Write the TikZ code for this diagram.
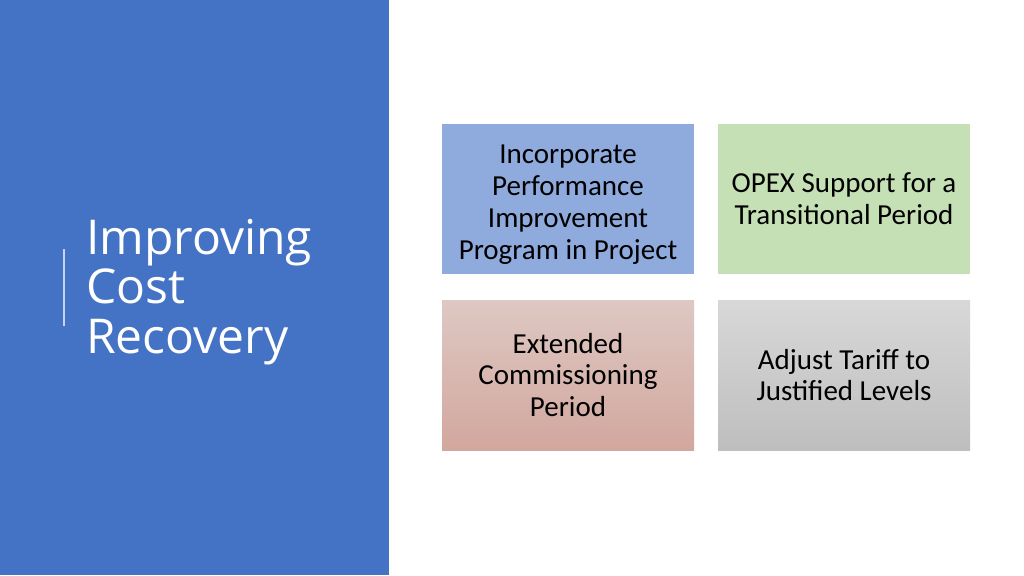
\documentclass[tikz,border=0pt]{standalone}
\usepackage{fontspec}
\setmainfont{Carlito}
\newfontfamily\titlefont{Open Sans}
\definecolor{panelblue}{HTML}{4472C4}
\definecolor{tileblue}{HTML}{8FAADC}
\definecolor{tilegreen}{HTML}{C5E0B4}
\definecolor{rosetop}{HTML}{DEC8C3}
\definecolor{rosebottom}{HTML}{D2A79E}
\definecolor{greytop}{HTML}{D8D8D8}
\definecolor{greybottom}{HTML}{BEBEBE}
\begin{document}
\begin{tikzpicture}[x=1pt,y=-1pt,
		tile/.style={minimum width=250pt,minimum height=150pt,inner sep=4pt,
			text width=244pt,align=flush center,font=\fontsize{29}{31.7}\selectfont,text=black}]
		\useasboundingbox (0,0) rectangle (1024,575);
		\fill[white] (0,0) rectangle (1024,575);
		\fill[panelblue] (0,0) rectangle (389,575);
		\draw[white,opacity=0.7,line width=1.5pt] (64,249) -- (64,326);
		\node (title) at (86,292) [anchor=west,inner sep=0pt,align=left,text=white,font=\titlefont\fontsize{48}{49.5}\selectfont] {Improving\\Cost\\Recovery};
		\node (performance) at (568,199) [tile,fill=tileblue] {\rule{0pt}{30pt}Incorporate\\Performance\\Improvement\\Program in Project};
		\node (opex) at (844,199) [tile,fill=tilegreen] {OPEX Support for a\\Transitional Period};
		\node (commissioning) at (568,375) [tile,top color=rosetop,bottom color=rosebottom] {Extended\\Commissioning\\Period};
		\node (tariff) at (844,375) [tile,top color=greytop,bottom color=greybottom] {Adjust Tariff to\\Justified Levels};
		\end{tikzpicture}
\end{document}
